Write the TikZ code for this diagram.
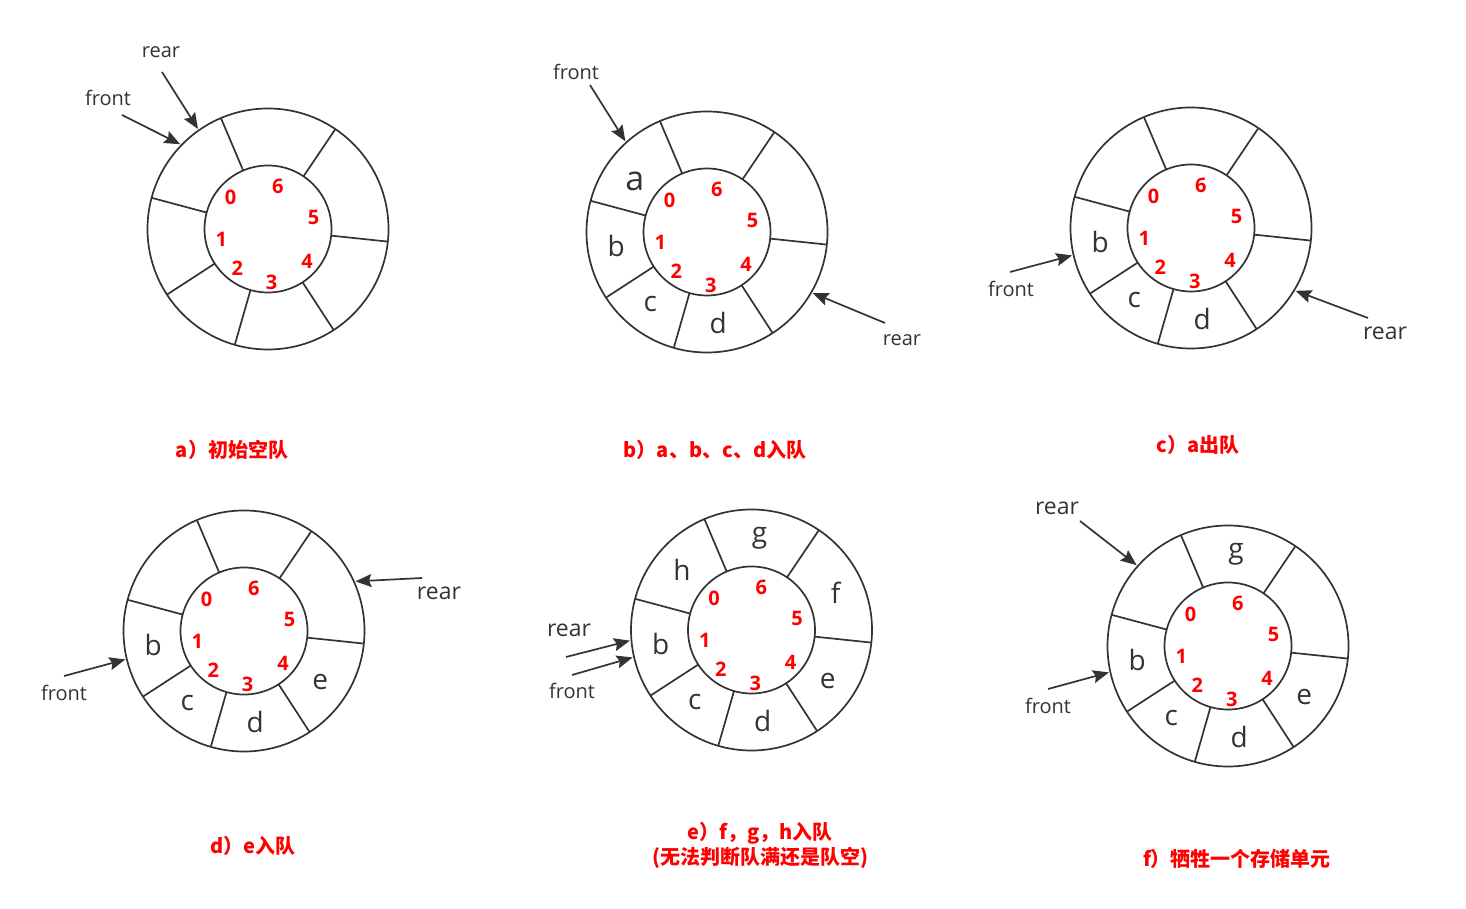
\documentclass[tikz,border=0pt]{standalone}
\usepackage{fontspec}
\setmainfont{Open Sans}
\newfontfamily\cjk{Noto Sans CJK SC}
\usetikzlibrary{arrows.meta,calc}
\definecolor{inkgray}{HTML}{333333}

\begin{document}
\begin{tikzpicture}[x=1pt,y=1pt,
    ringline/.style={draw=inkgray,line width=1.7pt},
    idx/.style={text=red,font=\bfseries\fontsize{20}{20}\selectfont,inner sep=0pt},
    elem/.style={text=inkgray,font=\fontsize{28}{28}\selectfont,inner sep=0pt},
    ptr/.style={draw=inkgray,line width=1.7pt,-{Stealth[length=16pt,width=13pt,inset=2.5pt]}},
    plabel/.style={text=inkgray,font=\fontsize{20}{20}\selectfont,inner sep=0pt},
    biglabel/.style={plabel,font=\fontsize{23}{23}\selectfont},
    caption/.style={text=red,font=\cjk\bfseries\fontsize{20}{25}\selectfont,align=center,inner sep=0pt}]
  \useasboundingbox (0,0) rectangle (1466,908);

  % the six rings, with cell dividers and slot numbers
  \foreach \q/\cx/\cy in {a/268/679,b/707/676,c/1191/680,d/244/277,e/751.5/278,f/1228/262}{
    \coordinate (\q) at (\cx,\cy);
    \draw[ringline] (\q) circle[radius=120.5];
    \draw[ringline] (\q) circle[radius=63.5];
    \foreach \t in {113,56,-6,-57,-106,-147,165}
      \draw[ringline] ($(\q)+(\t:63.5)$) -- ($(\q)+(\t:120.5)$);
    \foreach \k/\t/\r in {0/140/49,1/193/48,2/232/50,3/274/53,4/320/51,5/14/47,6/77/44}
      \node[idx] (\q\k) at ($(\q)+(\t:\r)$) {\k};
  }

  % queue elements
  \node[elem,font=\fontsize{34}{34}\selectfont] (b-a) at ($(b)+(145:88)$) {a};
  \node[elem] (b-b) at ($(b)+(189:92)$) {b};
  \node[elem] (b-c) at ($(b)+(232:92)$) {c};
  \node[elem] (b-d) at ($(b)+(277:92)$) {d};

  \node[elem] (c-b) at ($(c)+(189:92)$) {b};
  \node[elem] (c-c) at ($(c)+(232:92)$) {c};
  \node[elem] (c-d) at ($(c)+(277:92)$) {d};

  \node[elem] (d-b) at ($(d)+(189:92)$) {b};
  \node[elem] (d-c) at ($(d)+(232:92)$) {c};
  \node[elem] (d-d) at ($(d)+(277:92)$) {d};
  \node[elem] (d-e) at ($(d)+(326:92)$) {e};

  \node[elem] (e-h) at ($(e)+(139:92)$) {h};
  \node[elem] (e-b) at ($(e)+(189:92)$) {b};
  \node[elem] (e-c) at ($(e)+(232:92)$) {c};
  \node[elem] (e-d) at ($(e)+(277:92)$) {d};
  \node[elem] (e-e) at ($(e)+(326:92)$) {e};
  \node[elem] (e-f) at ($(e)+(24:92)$) {f};
  \node[elem] (e-g) at ($(e)+(85:92)$) {g};

  \node[elem] (f-b) at ($(f)+(189:92)$) {b};
  \node[elem] (f-c) at ($(f)+(232:92)$) {c};
  \node[elem] (f-d) at ($(f)+(277:92)$) {d};
  \node[elem] (f-e) at ($(f)+(326:92)$) {e};
  \node[elem] (f-g) at ($(f)+(85:92)$) {g};

  % front / rear pointers
  \node[plabel] (a-front) at (108,810) {front};
  \node[plabel] (a-rear) at (161,856) {rear};
  \coordinate (a-fs) at (122,793);
  \coordinate (a-rs) at (162,836);
  \draw[ptr] (a-fs) -- ($(a)+(136:122)$);
  \draw[ptr] (a-rs) -- ($(a)+(125:122)$);

  \node[plabel] (b-front) at (576,836) {front};
  \node[plabel] (b-rear) at (902,568) {rear};
  \coordinate (b-fs) at (590,823);
  \coordinate (b-rs) at (885,585);
  \draw[ptr] (b-fs) -- ($(b)+(132:122)$);
  \draw[ptr] (b-rs) -- ($(b)+(-30:122)$);

  \node[plabel] (c-front) at (1011,619) {front};
  \node[biglabel] (c-rear) at (1385,575) {rear};
  \coordinate (c-fs) at (1010,636);
  \coordinate (c-rs) at (1368,590);
  \draw[ptr] (c-fs) -- ($(c)+(193:122)$);
  \draw[ptr] (c-rs) -- ($(c)+(-31:122)$);

  \node[plabel] (d-front) at (64,215) {front};
  \node[biglabel] (d-rear) at (439,315) {rear};
  \coordinate (d-fs) at (64,232);
  \coordinate (d-rs) at (422,330);
  \draw[ptr] (d-fs) -- ($(d)+(193.5:122)$);
  \draw[ptr] (d-rs) -- ($(d)+(24:122)$);

  \node[plabel] (e-front) at (572,217) {front};
  \node[biglabel] (e-rear) at (569,278) {rear};
  \coordinate (e-fs) at (572,233);
  \coordinate (e-rs) at (566,251);
  \draw[ptr] (e-fs) -- ($(e)+(193:122)$);
  \draw[ptr] (e-rs) -- ($(e)+(185:122)$);

  \node[plabel] (f-front) at (1048,202) {front};
  \node[biglabel] (f-rear) at (1057,400) {rear};
  \coordinate (f-fs) at (1048,219);
  \coordinate (f-rs) at (1080,387);
  \draw[ptr] (f-fs) -- ($(f)+(192.5:122)$);
  \draw[ptr] (f-rs) -- ($(f)+(138.5:122)$);

  % captions
  \node[caption] (a-cap) at (232,458) {a）初始空队};
  \node[caption] (b-cap) at (715,458) {b）a、b、c、d入队};
  \node[caption] (c-cap) at (1198,463) {c）a出队};
  \node[caption] (d-cap) at (253,62) {d）e入队};
  \node[caption] (e-cap) at (760,63) {e）f，g，h入队\\(无法判断队满还是队空)};
  \node[caption] (f-cap) at (1237,49) {f）牺牲一个存储单元};
\end{tikzpicture}
\end{document}
